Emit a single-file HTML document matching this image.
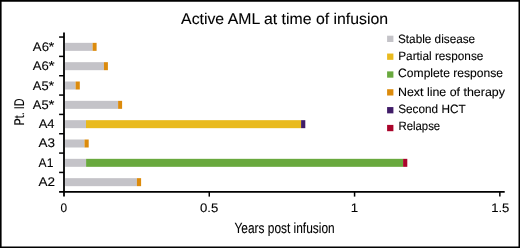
<!DOCTYPE html>
<html><head><meta charset="utf-8"><style>
html,body{margin:0;padding:0;background:#fff;}
svg{display:block;will-change:transform;text-rendering:geometricPrecision;}
</style></head><body>
<svg width="520" height="248" viewBox="0 0 520 248">
<rect width="520" height="248" fill="#fff"/>
<path fill="#000" fill-rule="evenodd" d="M0 0H520V248H0Z M1.6 1.8V246.5H518.5V1.8Z"/>
<rect x="65.10" y="42.85" width="27.50" height="8.0" fill="#c4c3c8"/>
<rect x="92.60" y="42.85" width="4.00" height="8.0" fill="#dc8b0c"/>
<rect x="65.10" y="62.18" width="38.80" height="8.0" fill="#c4c3c8"/>
<rect x="103.90" y="62.18" width="4.00" height="8.0" fill="#dc8b0c"/>
<rect x="65.10" y="81.51" width="10.50" height="8.0" fill="#c4c3c8"/>
<rect x="75.60" y="81.51" width="4.20" height="8.0" fill="#dc8b0c"/>
<rect x="65.10" y="100.84" width="53.00" height="8.0" fill="#c4c3c8"/>
<rect x="118.10" y="100.84" width="4.00" height="8.0" fill="#dc8b0c"/>
<rect x="65.10" y="120.17" width="20.90" height="8.0" fill="#c4c3c8"/>
<rect x="86.00" y="120.17" width="215.10" height="8.0" fill="#e9ba1e"/>
<rect x="301.10" y="120.17" width="4.20" height="8.0" fill="#401c68"/>
<rect x="65.10" y="139.50" width="19.40" height="8.0" fill="#c4c3c8"/>
<rect x="84.50" y="139.50" width="4.20" height="8.0" fill="#dc8b0c"/>
<rect x="65.10" y="158.83" width="21.00" height="8.0" fill="#c4c3c8"/>
<rect x="86.10" y="158.83" width="317.00" height="8.0" fill="#69a93e"/>
<rect x="403.10" y="158.83" width="4.20" height="8.0" fill="#aa042b"/>
<rect x="65.10" y="178.16" width="71.80" height="8.0" fill="#c4c3c8"/>
<rect x="136.90" y="178.16" width="4.20" height="8.0" fill="#dc8b0c"/>
<line x1="64.0" y1="32.4" x2="64.0" y2="196.6" stroke="#000" stroke-width="1.8"/>
<line x1="59.1" y1="191.8" x2="504.7" y2="191.8" stroke="#000" stroke-width="1.8"/>
<line x1="59.1" y1="37.05" x2="64" y2="37.05" stroke="#000" stroke-width="1.5"/>
<line x1="59.1" y1="56.39" x2="64" y2="56.39" stroke="#000" stroke-width="1.5"/>
<line x1="59.1" y1="75.73" x2="64" y2="75.73" stroke="#000" stroke-width="1.5"/>
<line x1="59.1" y1="95.07" x2="64" y2="95.07" stroke="#000" stroke-width="1.5"/>
<line x1="59.1" y1="114.41" x2="64" y2="114.41" stroke="#000" stroke-width="1.5"/>
<line x1="59.1" y1="133.75" x2="64" y2="133.75" stroke="#000" stroke-width="1.5"/>
<line x1="59.1" y1="153.09" x2="64" y2="153.09" stroke="#000" stroke-width="1.5"/>
<line x1="59.1" y1="172.43" x2="64" y2="172.43" stroke="#000" stroke-width="1.5"/>
<line x1="209.28" y1="191.8" x2="209.28" y2="196.6" stroke="#000" stroke-width="1.5"/>
<line x1="354.57" y1="191.8" x2="354.57" y2="196.6" stroke="#000" stroke-width="1.5"/>
<line x1="499.85" y1="191.8" x2="499.85" y2="196.6" stroke="#000" stroke-width="1.5"/>
<rect x="387.1" y="35.70" width="6.3" height="6.3" fill="#c4c3c8"/>
<rect x="387.1" y="53.54" width="6.3" height="6.3" fill="#e9ba1e"/>
<rect x="387.1" y="71.38" width="6.3" height="6.3" fill="#69a93e"/>
<rect x="387.1" y="89.22" width="6.3" height="6.3" fill="#dc8b0c"/>
<rect x="387.1" y="107.06" width="6.3" height="6.3" fill="#401c68"/>
<rect x="387.1" y="124.90" width="6.3" height="6.3" fill="#aa042b"/>
<g font-family="Liberation Sans, sans-serif" fill="#000" stroke="#000" stroke-width="0.1">
<text id="title" x="181.08" y="23.80" font-size="15.55" text-anchor="start" textLength="206.96" lengthAdjust="spacingAndGlyphs">Active AML at time of infusion</text>
<text id="lab0" x="32.89" y="50.60" font-size="12.51" text-anchor="start" textLength="16.10" lengthAdjust="spacingAndGlyphs">A6</text>
<text id="lab0s" x="48.47" y="50.73" font-size="12.87" text-anchor="start" textLength="5.79" lengthAdjust="spacingAndGlyphs">*</text>
<text id="lab1" x="32.87" y="69.70" font-size="12.51" text-anchor="start" textLength="16.06" lengthAdjust="spacingAndGlyphs">A6</text>
<text id="lab1s" x="48.62" y="70.11" font-size="12.98" text-anchor="start" textLength="6.11" lengthAdjust="spacingAndGlyphs">*</text>
<text id="lab2" x="32.81" y="89.50" font-size="12.51" text-anchor="start" textLength="15.80" lengthAdjust="spacingAndGlyphs">A5</text>
<text id="lab2s" x="48.64" y="89.52" font-size="12.72" text-anchor="start" textLength="5.71" lengthAdjust="spacingAndGlyphs">*</text>
<text id="lab3" x="32.81" y="108.50" font-size="12.51" text-anchor="start" textLength="15.80" lengthAdjust="spacingAndGlyphs">A5</text>
<text id="lab3s" x="48.63" y="108.99" font-size="12.89" text-anchor="start" textLength="5.92" lengthAdjust="spacingAndGlyphs">*</text>
<text id="lab4" x="38.69" y="128.20" font-size="12.51" text-anchor="start" textLength="15.85" lengthAdjust="spacingAndGlyphs">A4</text>
<text id="lab5" x="38.55" y="146.80" font-size="12.51" text-anchor="start" textLength="16.47" lengthAdjust="spacingAndGlyphs">A3</text>
<text id="lab6" x="38.59" y="166.60" font-size="12.51" text-anchor="start" textLength="14.79" lengthAdjust="spacingAndGlyphs">A1</text>
<text id="lab7" x="38.55" y="185.50" font-size="12.51" text-anchor="start" textLength="16.54" lengthAdjust="spacingAndGlyphs">A2</text>
<text id="xt0" x="60.44" y="211.80" font-size="12.35" text-anchor="start" textLength="6.57" lengthAdjust="spacingAndGlyphs">0</text>
<text id="xt1" x="200.05" y="211.80" font-size="12.35" text-anchor="start" textLength="18.24" lengthAdjust="spacingAndGlyphs">0.5</text>
<text id="xt2" x="350.66" y="211.90" font-size="12.35" text-anchor="start" textLength="7.36" lengthAdjust="spacingAndGlyphs">1</text>
<text id="xt3" x="491.17" y="211.80" font-size="12.35" text-anchor="start" textLength="18.17" lengthAdjust="spacingAndGlyphs">1.5</text>
<text id="xl" x="234.49" y="233.10" font-size="14.68" text-anchor="start" textLength="100.15" lengthAdjust="spacingAndGlyphs">Years post infusion</text>
<text id="yl" transform="translate(23.80,125.54) rotate(-90)" x="0" y="0" font-size="14.10" textLength="27.03" lengthAdjust="spacingAndGlyphs">Pt. ID</text>
<text id="leg0" x="397.97" y="42.50" font-size="12.06" text-anchor="start" textLength="77.20" lengthAdjust="spacingAndGlyphs">Stable disease</text>
<text id="leg1" x="398.28" y="59.80" font-size="12.06" text-anchor="start" textLength="85.07" lengthAdjust="spacingAndGlyphs">Partial response</text>
<text id="leg2" x="398.12" y="77.40" font-size="12.06" text-anchor="start" textLength="104.87" lengthAdjust="spacingAndGlyphs">Complete response</text>
<text id="leg3" x="397.99" y="95.50" font-size="12.06" text-anchor="start" textLength="106.91" lengthAdjust="spacingAndGlyphs">Next line of therapy</text>
<text id="leg4" x="398.21" y="113.20" font-size="12.06" text-anchor="start" textLength="67.42" lengthAdjust="spacingAndGlyphs">Second HCT</text>
<text id="leg5" x="398.47" y="130.40" font-size="12.06" text-anchor="start" textLength="41.66" lengthAdjust="spacingAndGlyphs">Relapse</text>
</g>
</svg>
</body></html>
